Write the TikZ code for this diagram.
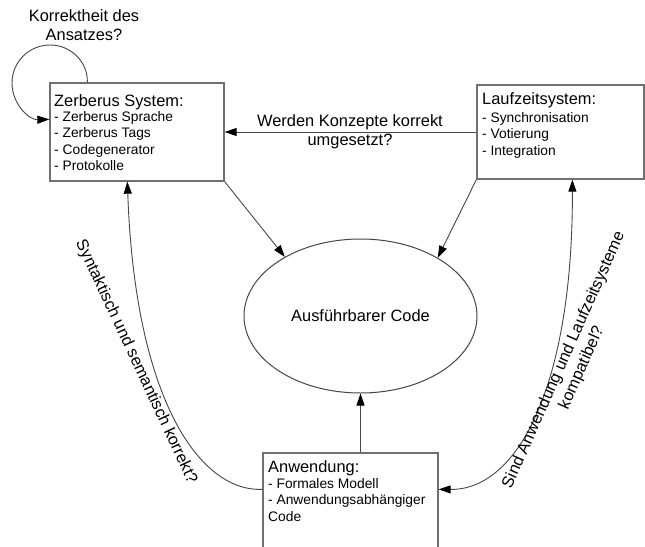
\documentclass[tikz,border=0pt]{standalone}
\usepackage{fontspec}
\setmainfont{Liberation Sans}
\usetikzlibrary{shapes.geometric,arrows.meta,calc}

\definecolor{boxgray}{RGB}{112,112,112}
\definecolor{linegray}{RGB}{70,70,70}

\begin{document}
\begin{tikzpicture}[x=1pt,y=-1pt,
  box/.style={draw=boxgray,line width=1.3pt,fill=none,inner sep=0pt},
  titletext/.style={inner sep=0pt,font=\fontsize{16.4}{19}\selectfont},
  listtext/.style={inner sep=0pt,align=left,font=\fontsize{13.8}{16.5}\selectfont},
  lbl/.style={inner sep=0pt,align=center,font=\fontsize{16.4}{19.5}\selectfont},
  tip/.style={Triangle[length=12pt,width=8pt,color=black]},
  arr/.style={draw=linegray,line width=0.9pt,-{Triangle[length=12pt,width=8pt,color=black]}},
  arrboth/.style={draw=linegray,line width=0.9pt,{Triangle[length=12pt,width=8pt,color=black]}-{Triangle[length=12pt,width=8pt,color=black]}}
]
\useasboundingbox (0,0) rectangle (645,546);
\fill[white] (0,0) rectangle (645,546);
\clip (0,0) rectangle (645,546);

% the three boxes
\node[box,minimum width=174pt,minimum height=98pt] (zer) at (137,132) {};
\node[box,minimum width=167pt,minimum height=94pt] (lau) at (560.5,132) {};
\node[box,minimum width=175pt,minimum height=130pt] (anw) at (350.5,518) {};

% box contents
\node[titletext,anchor=base west] (zerT) at (54,106) {Zerberus System:};
\node[listtext,anchor=north west] (zerL) at (54,111)
  {- Zerberus Sprache\\- Zerberus Tags\\- Codegenerator\\- Protokolle};

\node[titletext,anchor=base west] (lauT) at (482,104) {Laufzeitsystem:};
\node[listtext,anchor=north west] (lauL) at (482,112)
  {- Synchronisation\\- Votierung\\- Integration};

\node[titletext,anchor=base west] (anwT) at (268,472) {Anwendung:};
\node[listtext,anchor=north west] (anwL) at (268,478)
  {- Formales Modell\\- Anwendungsabhängiger\\Code};

% central ellipse
\node[draw=linegray,line width=1pt,ellipse,minimum width=233pt,minimum height=154pt,
      inner sep=0pt,font=\fontsize{16.4}{19}\selectfont] (ell) at (360.5,316) {Ausführbarer Code};

% straight connectors
\draw[arr] (zer.south east) -- (ell.142);
\draw[arr] (lau.south west) -- (ell.37);
\draw[arr] (anw.north -| ell.south) -- (ell.south);
\draw[arr] (lau.west) -- (zer.east);
\node[lbl,anchor=north] (konzLbl) at (350,114) {Werden Konzepte korrekt\\umgesetzt?};

% self loop on the Zerberus box
\coordinate (loopA) at ($(zer.north west)+(38,0)$);
\coordinate (loopB) at ($(zer.north west)+(0,37)$);
\draw[arr] (loopA) .. controls (88,62) and (71,45) .. (50,45)
  .. controls (29,45) and (12,62) .. (12,83)
  .. controls (12,104) and (29,120) .. (loopB);
\node[lbl,anchor=north] (ansLbl) at (84,9) {Korrektheit des\\Ansatzes?};

% curved connectors from the application box
\coordinate (anwW) at ($(anw.north west)+(0,37)$);
\coordinate (zerS) at ($(zer.south west)+(78,0)$);
\draw[arr] (anwW) .. controls (200,492) and (135,400) .. (zerS);
\node[lbl,rotate=-65] (synLbl) at (136,362) {Syntaktisch und semantisch korrekt?};

\coordinate (anwE) at ($(anw.north east)+(0,37)$);
\coordinate (lauS) at ($(lau.south west)+(96,0)$);
\draw[arrboth] (anwE) .. controls (520,490) and (573,380) .. (lauS);
\node[lbl,rotate=66] (kompLbl) at (573,364) {Sind Anwendung und Laufzeitsysteme\\kompatibel?};
\end{tikzpicture}
\end{document}
